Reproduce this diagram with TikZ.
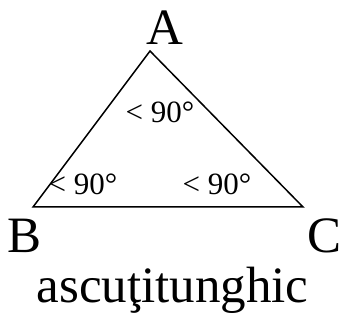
\documentclass[tikz,border=0pt]{standalone}
\usepackage{fontspec}
\setmainfont{Liberation Serif}
\begin{document}
\begin{tikzpicture}[x=1pt,y=-1pt,
  big/.style={inner sep=0pt,anchor=base,font=\fontsize{51}{53}\selectfont},
  ang/.style={inner sep=0pt,anchor=base,font=\fontsize{31}{33}\selectfont},
  edge/.style={line width=1.5pt,line join=miter}]
\useasboundingbox (0,0) rectangle (343,326);
\coordinate (va) at (150,51);
\coordinate (vb) at (33,207);
\coordinate (vc) at (303,207);
\draw[edge] (va) -- (vb) -- (vc) -- cycle;
\node[big] (la) at (165,45) {A};
\node[big] (lb) at (25,252) {B};
\node[big] (lc) at (325,252) {C};
\node[big] (name) at (172.5,302) {ascuţitunghic};
\node[ang] (aa) at (160,123) {< 90°};
\node[ang] (ab) at (83,195) {< 90°};
\node[ang] (ac) at (217,195) {< 90°};
\end{tikzpicture}
\end{document}
